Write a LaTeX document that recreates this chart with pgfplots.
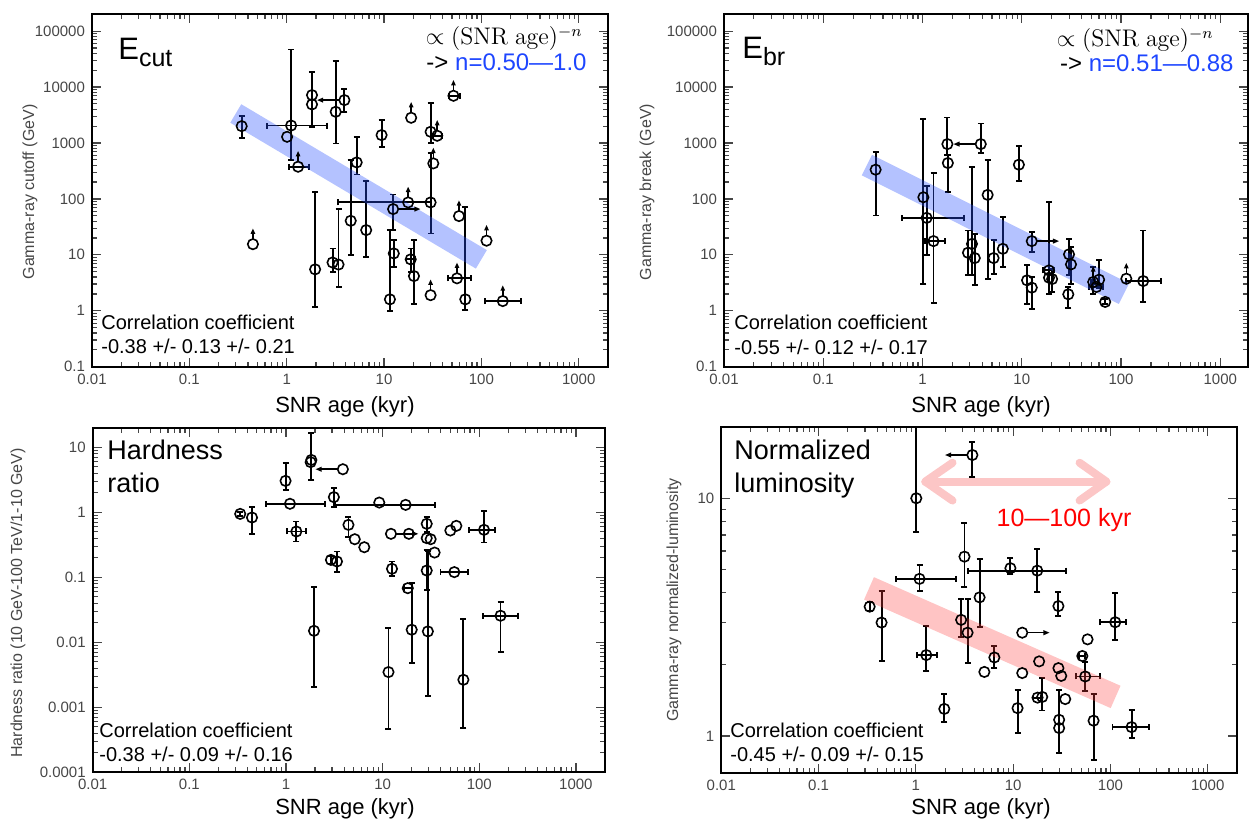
\documentclass[border=0pt]{standalone}
\usepackage[no-math]{fontspec}
\setmainfont{Liberation Sans}
\usepackage{pgfplots}
\pgfplotsset{compat=1.18}
\definecolor{bandblue}{RGB}{40,80,255}
\definecolor{bandred}{RGB}{255,60,60}
\definecolor{arrowpink}{RGB}{252,198,198}
\definecolor{nblue}{RGB}{30,70,255}
\definecolor{tickgray}{RGB}{70,70,70}

\pgfdeclareplotmark{uparr}{%
  \pgfpathmoveto{\pgfpoint{0pt}{2.6pt}}\pgfpathlineto{\pgfpoint{0pt}{5.6pt}}\pgfusepathqstroke
  \pgfpathmoveto{\pgfpoint{-1.2pt}{5.2pt}}\pgfpathlineto{\pgfpoint{0pt}{7.8pt}}\pgfpathlineto{\pgfpoint{1.2pt}{5.2pt}}\pgfpathclose\pgfusepathqfill}
\pgfdeclareplotmark{leftarr}{%
  \pgfpathmoveto{\pgfpoint{-2.6pt}{0pt}}\pgfpathlineto{\pgfpoint{-11pt}{0pt}}\pgfusepathqstroke
  \pgfpathmoveto{\pgfpoint{-10.6pt}{1.3pt}}\pgfpathlineto{\pgfpoint{-13.6pt}{0pt}}\pgfpathlineto{\pgfpoint{-10.6pt}{-1.3pt}}\pgfpathclose\pgfusepathqfill}
\pgfdeclareplotmark{rightarr}{%
  \pgfpathmoveto{\pgfpoint{2.6pt}{0pt}}\pgfpathlineto{\pgfpoint{11pt}{0pt}}\pgfusepathqstroke
  \pgfpathmoveto{\pgfpoint{10.6pt}{1.3pt}}\pgfpathlineto{\pgfpoint{13.6pt}{0pt}}\pgfpathlineto{\pgfpoint{10.6pt}{-1.3pt}}\pgfpathclose\pgfusepathqfill}

\pgfplotsset{
 every axis/.append style={scale only axis,
   tick align=inside, tick pos=both, axis line style={line width=1pt},
   major tick length=4.5pt, minor tick length=2.5pt,
   every tick/.style={tickgray, line width=0.6pt},
   xtick={0.01,0.1,1,10,100,1000}, xticklabels={0.01,0.1,1,10,100,1000},
   ticklabel style={font=\fontsize{7.5}{8}\selectfont, text=tickgray}},
 mypts/.style={only marks, mark=o, mark size=2.6pt, mark options={line width=0.8pt, draw=black, fill=none}},
 myyeb/.style={draw=none, mark=none, error bars/y dir=both, error bars/y explicit,
   error bars/error bar style={draw=black, solid, line width=0.95pt}, error bars/error mark=-, error bars/error mark options={rotate=90, draw=black, line width=0.95pt, mark size=1.5pt}},
 myxeb/.style={draw=none, mark=none, error bars/x dir=both, error bars/x explicit,
   error bars/error bar style={draw=black, solid, line width=0.95pt}, error bars/error mark=-, error bars/error mark options={rotate=90, draw=black, line width=0.95pt, mark size=1.5pt}},
 mylim/.style={only marks, mark=#1, mark options={line width=0.8pt, black, fill=black}},
}

\begin{document}
\begin{tikzpicture}
\path[use as bounding box] (0,0) rectangle (624.5pt,411.5pt);

% ---------------- Top left: E_cut
\begin{axis}[xmode=log, ymode=log, anchor=south west, at={(46pt,228.15pt)}, width=258pt, height=176.2pt,
  xmin=0.01, xmax=2000, ymin=0.1, ymax=2e5,
  ytick={0.1,1,10,100,1000,10000,100000}, yticklabels={0.1,1,10,100,1000,10000,100000}]
\addplot[myyeb] table[x=x,y=y,y error plus expr=\thisrow{yh}-\thisrow{y},y error minus expr=\thisrow{y}-\thisrow{yl}] {
x y yl yh
0.345 2000 1250 3000
1.11 2050 490 47000
1.82 7180 1950 18700
3.92 5840 3610 9060
3.19 3610 980 29500
1.96 5.5 1.15 131
2.96 7.3 5.0 13
3.41 6.7 2.7 65.7
4.55 40.6 9.9 494
6.56 27.7 9.25 208
5.24 449 273 1256
9.44 1383 855 2565
30.1 1585 1000 5230
30.1 86.5 24.1 650
68.4 1.6 1.03 72.3
11.5 1.6 1.0 27.7
12.6 10.6 6.1 18.3
18.8 8.3 5.0 13
20.3 4.17 1.3 18.3
12.4 65.8 27.7 120
};
\addplot[myxeb] table[x=x,y=y,x error plus expr=\thisrow{xh}-\thisrow{x},x error minus expr=\thisrow{x}-\thisrow{xl}] {
x y xl xh
1.11 2050 0.63 2.6
1.31 376 1.06 1.69
17.7 86.5 3.4 30
35.2 1345 32 39
51.7 6980 47 60
56.2 3.8 45 78.7
166 1.49 109 253
18.8 8.3 17 21
};
\addplot[mypts] table[x=x,y=y] {
x y
0.345 2000
0.45 15.5
1.01 1290
1.11 2050
1.31 376
1.82 7180
1.82 4890
3.92 5840
3.19 3610
1.96 5.5
2.96 7.3
3.41 6.7
4.55 40.6
6.56 27.7
5.24 449
9.44 1383
19.0 2823
30.1 1585
32.1 431
30.1 86.5
35.2 1345
51.7 6980
58.9 49.3
113 17.9
56.2 3.8
68.4 1.6
166 1.49
30.1 1.9
11.5 1.6
12.6 10.6
18.8 8.3
20.3 4.17
12.4 65.8
17.7 86.5
};
\addplot[mylim=uparr] table[x=x,y=y] {
x y
0.45 15.5
1.31 376
19.0 2823
32.1 431
35.2 1345
51.7 6980
58.9 49.3
113 17.9
56.2 3.8
166 1.49
30.1 1.9
17.7 86.5
};
\addplot[mylim=leftarr] table[x=x,y=y] {
x y
3.92 5840
};
\addplot[mylim=rightarr] table[x=x,y=y] {
x y
12.4 65.8
};
\addplot[draw=bandblue, draw opacity=0.35, line width=10.75pt, line cap=butt] coordinates {(0.30,3370) (100,8.3)};
\end{axis}

% ---------------- Top right: E_br
\begin{axis}[xmode=log, ymode=log, anchor=south west, at={(362pt,228.15pt)}, width=262pt, height=176.2pt,
  xmin=0.01, xmax=1900, ymin=0.1, ymax=2e5,
  ytick={0.1,1,10,100,1000,10000,100000}, yticklabels={0.1,1,10,100,1000,10000,100000}]
\addplot[myyeb] table[x=x,y=y,y error plus expr=\thisrow{yh}-\thisrow{y},y error minus expr=\thisrow{y}-\thisrow{yl}] {
x y yl yh
0.337 333 50.4 678
1.02 107 3.05 2661
1.10 45.8 9.75 173
1.29 17.6 1.38 286
1.78 955 600 2850
1.80 438 131 600
3.86 955 650 2230
9.35 409 206 867
4.53 118 3.74 495
2.87 10.9 4.3 27.2
3.15 15.7 4.3 366
3.36 8.75 2.85 23.8
5.2 8.75 4.48 18.1
6.44 12.8 6.04 47.1
11.3 3.5 1.34 6.47
12.6 2.59 1.09 4.0
12.6 17.6 11.2 25.4
18.8 5.27 2.02 87
20.2 3.69 2.2 5.5
29.9 10.2 4.3 19.3
31.3 6.74 3.05 13.7
29.4 1.97 1.14 2.66
52.4 3.27 2.02 6.04
60.1 3.59 2.5 7.94
69.2 1.44 1.3 1.6
167 3.4 1.44 27.2
};
\addplot[myxeb] table[x=x,y=y,x error plus expr=\thisrow{xh}-\thisrow{x},x error minus expr=\thisrow{x}-\thisrow{xl}] {
x y xl xh
1.10 45.8 0.618 2.59
1.29 17.6 1.05 1.67
18.8 5.27 16.5 21
56.4 2.66 48 66
52.4 3.27 50 55
167 3.4 112 255
};
\addplot[mypts] table[x=x,y=y] {
x y
0.337 333
1.02 107
1.10 45.8
1.29 17.6
1.78 955
1.80 438
3.86 955
9.35 409
4.53 118
2.87 10.9
3.15 15.7
3.36 8.75
5.2 8.75
6.44 12.8
11.3 3.5
12.6 2.59
12.6 17.6
18.8 5.27
18.8 3.9
20.2 3.69
29.9 10.2
31.3 6.74
29.4 1.97
52.4 3.27
60.1 3.59
56.4 2.66
69.2 1.44
113 3.74
167 3.4
};
\addplot[mylim=uparr] table[x=x,y=y] {
x y
113 3.74
52.4 3.27
};
\addplot[mylim=leftarr] table[x=x,y=y] {
x y
3.86 955
};
\addplot[mylim=rightarr] table[x=x,y=y] {
x y
12.6 17.6
};
\addplot[draw=bandblue, draw opacity=0.35, line width=11.5pt, line cap=butt] coordinates {(0.275,403) (107,2.02)};
\end{axis}

% ---------------- Bottom left: hardness ratio
\begin{axis}[xmode=log, ymode=log, anchor=south west, at={(46.35pt,25.35pt)}, width=256.15pt, height=172.3pt,
  xmin=0.01, xmax=2000, ymin=1e-4, ymax=20,
  ytick={0.0001,0.001,0.01,0.1,1,10}, yticklabels={0.0001,0.001,0.01,0.1,1,10}]
\addplot[myyeb] table[x=x,y=y,y error plus expr=\thisrow{yh}-\thisrow{y},y error minus expr=\thisrow{y}-\thisrow{yl}] {
x y yl yh
0.336 0.944 0.87 1.02
0.445 0.83 0.466 1.22
0.99 3.04 2.21 5.8
1.28 0.506 0.355 0.72
1.83 6.38 3.15 16.8
3.13 1.71 1.22 2.34
2.92 0.185 0.16 0.21
3.37 0.175 0.12 0.249
1.95 0.015 0.00205 0.072
4.43 0.64 0.42 0.84
12.5 0.135 0.103 0.175
20.0 0.0156 0.0048 0.081
11.5 0.00348 0.00046 0.0165
28.6 0.664 0.5 0.85
28.6 0.127 0.064 0.264
29.4 0.0147 0.0015 0.249
68.5 0.00265 0.00048 0.0227
112 0.537 0.343 1.03
166 0.0256 0.007 0.041
};
\addplot[myxeb] table[x=x,y=y,x error plus expr=\thisrow{xh}-\thisrow{x},x error minus expr=\thisrow{x}-\thisrow{xl}] {
x y xl xh
1.10 1.35 0.618 2.52
1.28 0.506 1.03 1.62
17.3 1.3 3.21 35.2
18.2 0.068 16.5 20
55.2 0.12 39.7 76.7
112 0.537 79 146
166 0.0256 109 249
};
\addplot[mypts] table[x=x,y=y] {
x y
0.336 0.944
0.445 0.83
0.99 3.04
1.10 1.35
1.28 0.506
1.83 6.38
1.80 5.9
3.88 4.59
3.13 1.71
2.92 0.185
3.37 0.175
1.95 0.015
4.43 0.64
5.15 0.385
6.46 0.29
9.23 1.41
17.3 1.3
12.2 0.466
18.7 0.466
12.5 0.135
18.2 0.068
20.0 0.0156
11.5 0.00348
28.6 0.664
28.6 0.40
31.4 0.385
28.6 0.127
29.4 0.0147
34.5 0.24
50.2 0.524
57.9 0.618
55.2 0.12
68.5 0.00265
112 0.537
166 0.0256
};
\addplot[mylim=leftarr] table[x=x,y=y] {
x y
3.88 4.59
};
\addplot[mylim=rightarr] table[x=x,y=y] {
x y
12.2 0.466
};
\end{axis}

% ---------------- Bottom right: normalized luminosity
\begin{axis}[xmode=log, ymode=log, anchor=south west, at={(360.65pt,24.85pt)}, width=257.85pt, height=173.3pt,
  xmin=0.01, xmax=2000, ymin=0.697, ymax=20,
  ytick={1,10}, yticklabels={1,10}]
\addplot[myyeb] table[x=x,y=y,y error plus expr=\thisrow{yh}-\thisrow{y},y error minus expr=\thisrow{y}-\thisrow{yl}] {
x y yl yh
0.335 3.5 3.35 3.65
0.444 3.0 2.07 4.07
1.01 10 7.24 25
1.09 4.58 4.09 5.24
1.28 2.19 1.87 2.9
1.96 1.3 1.15 1.5
3.81 15.2 12.3 17.3
3.16 5.68 4.25 7.9
2.92 3.08 2.6 3.76
3.40 2.72 2.02 3.76
4.52 3.83 2.87 5.55
6.41 2.14 1.93 2.39
9.37 5.08 4.8 5.6
17.7 4.96 4.05 6.1
11.1 1.31 1.03 1.56
19.9 1.46 1.28 1.75
29.2 3.52 3.2 4.05
29.7 1.17 0.845 1.56
55.0 1.78 1.55 2.04
67.1 1.16 0.79 1.5
112 3.01 2.54 3.98
165 1.09 0.98 1.29
};
\addplot[myxeb] table[x=x,y=y,x error plus expr=\thisrow{xh}-\thisrow{x},x error minus expr=\thisrow{x}-\thisrow{xl}] {
x y xl xh
1.09 4.58 0.62 2.56
1.28 2.19 1.03 1.66
17.7 4.96 3.47 35.2
17.8 1.45 16.2 19.5
51.4 2.17 48 55
55.0 1.78 44.7 77.3
112 3.01 78.7 146
165 1.09 105 250
};
\addplot[mypts] table[x=x,y=y] {
x y
0.335 3.5
0.444 3.0
1.01 10
1.09 4.58
1.28 2.19
1.96 1.3
3.81 15.2
3.16 5.68
2.92 3.08
3.40 2.72
4.52 3.83
5.06 1.86
6.41 2.14
9.37 5.08
17.7 4.96
12.4 2.72
11.1 1.31
12.4 1.84
18.5 2.06
17.8 1.45
19.9 1.46
29.2 3.52
29.2 1.93
31.2 1.79
34.3 1.43
29.7 1.17
29.7 1.08
51.4 2.17
58.2 2.55
55.0 1.78
67.1 1.16
112 3.01
165 1.09
};
\addplot[mylim=leftarr] table[x=x,y=y] {
x y
3.81 15.2
};
\addplot[mylim=rightarr] table[x=x,y=y] {
x y
12.4 2.72
};
\addplot[draw=bandred, draw opacity=0.3, line width=12.2pt, line cap=butt] coordinates {(0.33,4.18) (113,1.46)};
\addplot[draw=arrowpink, line width=4pt, line cap=round, line join=round] coordinates {(1.25,11.75) (90.8,11.75)};
\addplot[draw=arrowpink, line width=4pt, line cap=round, line join=round] coordinates {(2.38,14.1) (1.25,11.75) (2.38,9.78)};
\addplot[draw=arrowpink, line width=4pt, line cap=round, line join=round] coordinates {(48.2,14.1) (90.8,11.75) (48.2,9.78)};
\end{axis}

% ---------------- Texts
% top left
\node[anchor=base west, inner sep=0] at (59pt,381.5pt) {\fontsize{15.5}{16}\selectfont E\raisebox{-3.5pt}{\fontsize{12.5}{13}\selectfont cut}};
\node[anchor=base east, inner sep=0] at (291.5pt,389pt) {\fontsize{12}{13}\selectfont $\propto(\mathrm{SNR\ age})^{-n}$};
\node[anchor=base east, inner sep=0] at (293.5pt,376pt) {\fontsize{12}{13}\selectfont -> \textcolor{nblue}{n=0.50—1.0}};
\node[anchor=base west, inner sep=0] at (50.5pt,246.5pt) {\fontsize{10}{11}\selectfont Correlation coefficient};
\node[anchor=base west, inner sep=0] at (50.5pt,234.5pt) {\fontsize{10}{11}\selectfont -0.38 +/- 0.13 +/- 0.21};
\node[anchor=base, inner sep=0] at (172.5pt,205pt) {\fontsize{11}{12}\selectfont SNR age (kyr)};
\node[rotate=90, inner sep=0, text=tickgray] at (15pt,315.5pt) {\fontsize{8}{9}\selectfont Gamma-ray cutoff (GeV)};
% top right
\node[anchor=base west, inner sep=0] at (371pt,382pt) {\fontsize{15.5}{16}\selectfont E\raisebox{-3.5pt}{\fontsize{12.5}{13}\selectfont br}};
\node[anchor=base east, inner sep=0] at (607pt,388pt) {\fontsize{12}{13}\selectfont $\propto(\mathrm{SNR\ age})^{-n}$};
\node[anchor=base east, inner sep=0] at (617pt,375.5pt) {\fontsize{12}{13}\selectfont -> \textcolor{nblue}{n=0.51—0.88}};
\node[anchor=base west, inner sep=0] at (367pt,246.5pt) {\fontsize{10}{11}\selectfont Correlation coefficient};
\node[anchor=base west, inner sep=0] at (367pt,234pt) {\fontsize{10}{11}\selectfont -0.55 +/- 0.12 +/- 0.17};
\node[anchor=base, inner sep=0] at (490.5pt,205pt) {\fontsize{11}{12}\selectfont SNR age (kyr)};
\node[rotate=90, inner sep=0, text=tickgray] at (323.5pt,315.5pt) {\fontsize{8}{9}\selectfont Gamma-ray break (GeV)};
% bottom left
\node[anchor=base west, inner sep=0] at (53.5pt,181.5pt) {\fontsize{13.5}{14}\selectfont Hardness};
\node[anchor=base west, inner sep=0] at (53.5pt,165pt) {\fontsize{13.5}{14}\selectfont ratio};
\node[anchor=base west, inner sep=0] at (49.5pt,42.5pt) {\fontsize{10}{11}\selectfont Correlation coefficient};
\node[anchor=base west, inner sep=0] at (49.5pt,30.5pt) {\fontsize{10}{11}\selectfont -0.38 +/- 0.09 +/- 0.16};
\node[anchor=base, inner sep=0] at (172.5pt,4pt) {\fontsize{11}{12}\selectfont SNR age (kyr)};
\node[rotate=90, inner sep=0, text=tickgray] at (9pt,110pt) {\fontsize{8}{9}\selectfont Hardness ratio (10 GeV-100 TeV/1-10 GeV)};
% bottom right
\node[anchor=base west, inner sep=0] at (367pt,181.5pt) {\fontsize{13.5}{14}\selectfont Normalized};
\node[anchor=base west, inner sep=0] at (367pt,165pt) {\fontsize{13.5}{14}\selectfont luminosity};
\node[anchor=base west, inner sep=0] at (365pt,42.5pt) {\fontsize{10}{11}\selectfont Correlation coefficient};
\node[anchor=base west, inner sep=0] at (365pt,30.5pt) {\fontsize{10}{11}\selectfont -0.45 +/- 0.09 +/- 0.15};
\node[anchor=base, inner sep=0] at (490.5pt,4pt) {\fontsize{11}{12}\selectfont SNR age (kyr)};
\node[rotate=90, inner sep=0, text=tickgray] at (337pt,111.5pt) {\fontsize{8}{9}\selectfont Gamma-ray normalized-luminosity};
\node[anchor=base, inner sep=0, text=red] at (532pt,148pt) {\fontsize{12.5}{13}\selectfont 10—100 kyr};
\end{tikzpicture}
\end{document}
